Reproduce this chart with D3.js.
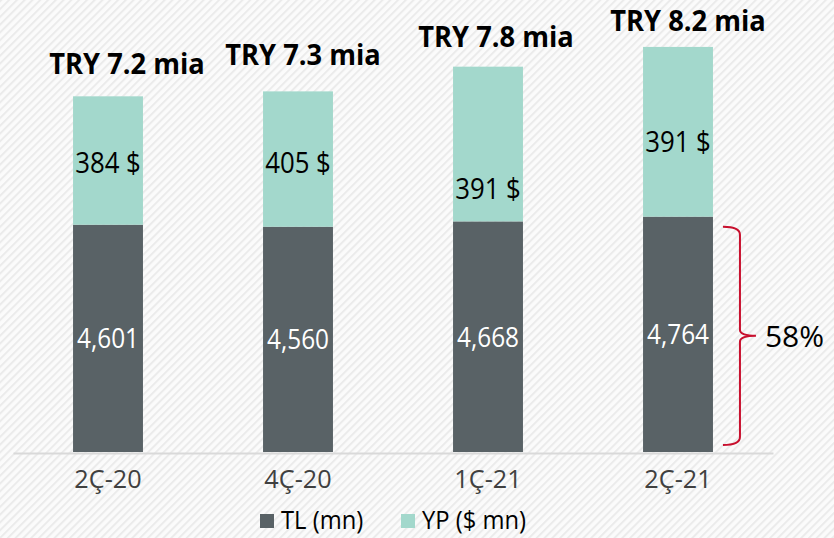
<!DOCTYPE html>
<html>
<head>
<meta charset="utf-8">
<script src="https://cdn.jsdelivr.net/npm/d3@7"></script>
<style>
  body { margin: 0; background: #fff; }
  svg { display: block; font-family: "Open Sans", sans-serif; }
</style>
</head>
<body>
<svg width="834" height="538"></svg>
<script>
// data
var quarters = ["2Ç-20", "4Ç-20", "1Ç-21", "2Ç-21"];
var tlValues = [4601, 4560, 4668, 4764];          // TL part (mn)
var ypValues = [2599, 2740, 3132, 3436];          // YP part in TL (mn), total minus TL
var ypLabels = ["384 $", "405 $", "391 $", "391 $"];
var totalLabels = ["TRY 7.2 mia", "TRY 7.3 mia", "TRY 7.8 mia", "TRY 8.2 mia"];
var shareLabel = "58%";

var darkCol = "#596266", tealCol = "#a3d8cc", redCol = "#c8102e";

var svg = d3.select("svg");

// narrow the glyphs a little, the original font is narrower than Open Sans
function squeeze(sel, k) {
  sel.each(function() {
    var w = this.getComputedTextLength();
    d3.select(this).attr("textLength", w * k).attr("lengthAdjust", "spacingAndGlyphs");
  });
}

// hatched background
var defs = svg.append("defs");
defs.append("pattern")
    .attr("id", "hatch")
    .attr("patternUnits", "userSpaceOnUse")
    .attr("width", 5.5).attr("height", 5.5)
    .attr("patternTransform", "rotate(45)")
  .call(function(p) {
    p.append("rect").attr("width", 5.5).attr("height", 5.5).attr("fill", "#fbfbfb");
    p.append("rect").attr("width", 2).attr("height", 5.5).attr("fill", "#ebebeb");
  });
svg.append("rect").attr("width", 834).attr("height", 538).attr("fill", "url(#hatch)");

// scales
var x = d3.scaleBand()
    .domain(quarters)
    .range([13, 773])
    .paddingInner(0.632)
    .paddingOuter(0.316);
var y = d3.scaleLinear()
    .domain([0, 9000])
    .range([452, 7.4]);

// stack the two parts
var rows = quarters.map(function(q, i) { return {q: q, tl: tlValues[i], yp: ypValues[i]}; });
var series = d3.stack().keys(["tl", "yp"])(rows);
var colour = {tl: darkCol, yp: tealCol};

svg.append("g").selectAll("g")
  .data(series)
  .join("g")
    .attr("fill", function(s) { return colour[s.key]; })
  .selectAll("rect")
  .data(function(s) { return s; })
  .join("rect")
    .attr("x", function(d) { return x(d.data.q); })
    .attr("width", x.bandwidth())
    .attr("y", function(d) { return y(d[1]); })
    .attr("height", function(d) { return y(d[0]) - y(d[1]); });

// x axis
var xAxis = svg.append("g")
    .attr("transform", "translate(0," + 453 + ")")
    .call(d3.axisBottom(x).tickSize(0).tickSizeOuter(0).tickPadding(17));
xAxis.select(".domain").attr("stroke", "#d9d9d9").attr("stroke-width", 2);
xAxis.selectAll("text")
    .attr("fill", "#404040")
    .style("font-family", "Open Sans, sans-serif")
    .style("font-size", "26px")
    .call(squeeze, 0.97);

// TL labels (white, centre of dark part)
svg.append("g").selectAll("text")
  .data(series[0])
  .join("text")
    .attr("x", function(d) { return x(d.data.q) + x.bandwidth() / 2; })
    .attr("y", function(d) { return (y(d[0]) + y(d[1])) / 2; })
    .attr("dy", "0.36em")
    .attr("text-anchor", "middle")
    .attr("fill", "#fff")
    .style("font-size", "28px")
    .text(function(d) { return d3.format(",")(d.data.tl); })
    .call(squeeze, 0.87);

// YP labels
var ypShift = [2, 3, 44, 9];
svg.append("g").selectAll("text")
  .data(series[1])
  .join("text")
    .attr("x", function(d) { return x(d.data.q) + x.bandwidth() / 2; })
    .attr("y", function(d, i) { return (y(d[0]) + y(d[1])) / 2 + ypShift[i]; })
    .attr("dy", "0.36em")
    .attr("text-anchor", "middle")
    .attr("fill", "#000")
    .style("font-size", "30px")
    .text(function(d, i) { return ypLabels[i]; })
    .call(squeeze, 0.86);

// totals on top
var totShiftX = [19, 5, 8, 10], totShiftY = [-33, -37, -30, -26];
svg.append("g").selectAll("text")
  .data(series[1])
  .join("text")
    .attr("x", function(d, i) { return x(d.data.q) + x.bandwidth() / 2 + totShiftX[i]; })
    .attr("y", function(d, i) { return y(d[1]) + totShiftY[i]; })
    .attr("dy", "0.36em")
    .attr("text-anchor", "middle")
    .attr("fill", "#000")
    .style("font-size", "29px")
    .style("font-weight", "bold")
    .text(function(d, i) { return totalLabels[i]; })
    .call(squeeze, 0.94);

// brace next to last bar
var last = quarters[quarters.length - 1];
var bx0 = x(last) + x.bandwidth() + 10, bx1 = bx0 + 17, bx2 = bx1 + 16;
var bTop = y(tlValues[3]) + 10, bBot = y(0) - 7, bMid = (bTop + bBot) / 2;
svg.append("path")
    .attr("d", "M" + bx0 + "," + bTop +
               "Q" + bx1 + "," + bTop + " " + bx1 + "," + (bTop + 8) +
               "L" + bx1 + "," + (bMid - 6) +
               "Q" + bx1 + "," + bMid + " " + bx2 + "," + bMid +
               "Q" + bx1 + "," + bMid + " " + bx1 + "," + (bMid + 6) +
               "L" + bx1 + "," + (bBot - 8) +
               "Q" + bx1 + "," + bBot + " " + bx0 + "," + bBot)
    .attr("fill", "none")
    .attr("stroke", redCol)
    .attr("stroke-width", 2);
svg.append("text")
    .attr("x", bx2 + 9)
    .attr("y", bMid)
    .attr("dy", "0.36em")
    .attr("fill", "#000")
    .style("font-size", "30px")
    .text(shareLabel);

// legend
var legend = svg.append("g").attr("transform", "translate(260,520)");
var legItems = [{label: "TL (mn)", col: darkCol, x: 0}, {label: "YP ($ mn)", col: tealCol, x: 141}];
var li = legend.selectAll("g").data(legItems).join("g")
    .attr("transform", function(d) { return "translate(" + d.x + ",0)"; });
li.append("rect").attr("y", -6).attr("width", 14).attr("height", 14).attr("fill", function(d) { return d.col; });
li.append("text")
    .attr("x", 21)
    .attr("dy", "0.36em")
    .attr("fill", "#000")
    .style("font-size", "25px")
    .text(function(d) { return d.label; })
    .call(squeeze, 0.95);
</script>
</body>
</html>
